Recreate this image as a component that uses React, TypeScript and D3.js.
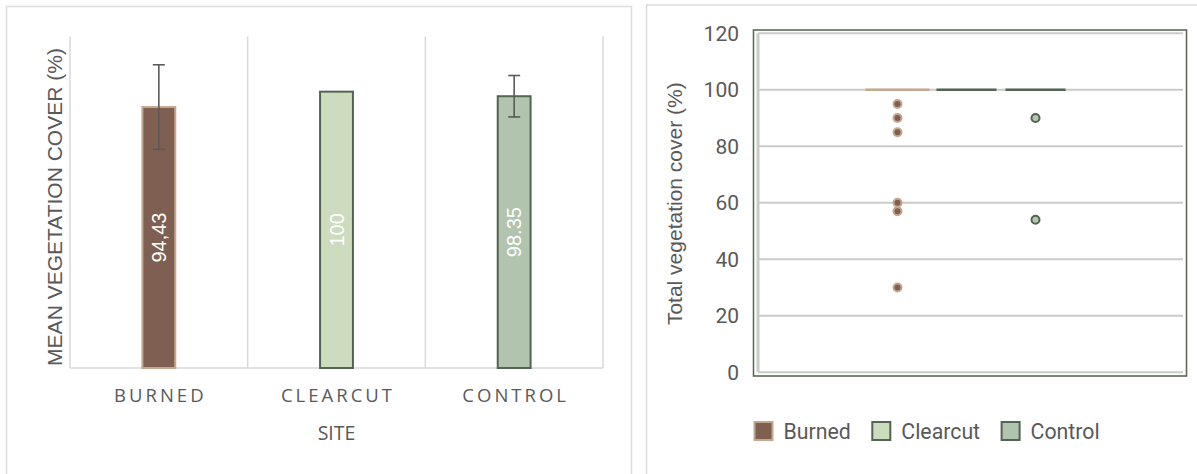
import React, { useEffect, useRef } from "react";
import * as d3 from "d3";

// ---------- data ----------
const sites = ["BURNED", "CLEARCUT", "CONTROL"];
const meanCover = [94.43, 100, 98.35];
const meanLabels = ["94,43", "100", "98.35"];
const errorHalf = [15.3, 0, 7.5];

const seriesNames = ["Burned", "Clearcut", "Control"];
const boxQ1 = [100, 100, 100];
const boxMedian = [100, 100, 100];
const boxQ3 = [100, 100, 100];
const burnedOutliers = [95, 90, 85, 60, 57, 30];
const clearcutOutliers: number[] = [];
const controlOutliers = [90, 54];
const yTicks = [0, 20, 40, 60, 80, 100, 120];

// ---------- styles ----------
const fills = ["#7f5f52", "#cddbbf", "#b1c4ae"];
const strokes = ["#c4a88d", "#526452", "#526452"];
const TEXT = "#595959";
const ARIAL = "'Liberation Sans', Arial, sans-serif";
const SEGOE = "'Open Sans', sans-serif";
const APTOS = "Roboto, sans-serif";

export default function App() {
  const ref = useRef<SVGSVGElement>(null);

  useEffect(() => {
    const svg = d3.select(ref.current);
    svg.selectAll("*").remove();

    // panel borders
    svg.append("rect").attr("x", 6.5).attr("y", 6.5).attr("width", 625).attr("height", 500)
      .attr("fill", "none").attr("stroke", "#dcdcdc").attr("stroke-width", 1.5);
    svg.append("rect").attr("x", 646.5).attr("y", 5).attr("width", 600).attr("height", 500)
      .attr("fill", "none").attr("stroke", "#dcdcdc").attr("stroke-width", 1.5);

    // ---------- LEFT CHART ----------
    const L = { x0: 70, x1: 603, y0: 368, y1: 36.4 };
    const xL = d3.scaleBand<string>().domain(sites).range([L.x0, L.x1]);
    const yL = d3.scaleLinear().domain([0, 120]).range([L.y0, L.y1]);
    const gL = svg.append("g");

    // category separators
    const seps = [L.x0, ...sites.map((s) => (xL(s) as number) + xL.bandwidth())];
    gL.selectAll("line.sep").data(seps).join("line")
      .attr("x1", (d) => d).attr("x2", (d) => d)
      .attr("y1", yL(120)).attr("y2", L.y0)
      .attr("stroke", "#d9d9d9").attr("stroke-width", 1.5);
    gL.append("line").attr("x1", L.x0).attr("x2", L.x1).attr("y1", L.y0).attr("y2", L.y0)
      .attr("stroke", "#d9d9d9").attr("stroke-width", 1.5);

    const bw = xL.bandwidth() * 0.185;
    sites.forEach((s, i) => {
      const cx = (xL(s) as number) + xL.bandwidth() / 2;
      gL.append("rect")
        .attr("x", cx - bw / 2).attr("y", yL(meanCover[i]))
        .attr("width", bw).attr("height", L.y0 - yL(meanCover[i]))
        .attr("fill", fills[i]).attr("stroke", strokes[i]).attr("stroke-width", 2);
      if (errorHalf[i] > 0) {
        const top = yL(meanCover[i] + errorHalf[i]);
        const bot = yL(meanCover[i] - errorHalf[i]);
        gL.append("line").attr("x1", cx).attr("x2", cx).attr("y1", top).attr("y2", bot)
          .attr("stroke", "#5a5a5a").attr("stroke-width", 1.6);
        [top, bot].forEach((y) =>
          gL.append("line").attr("x1", cx - 6).attr("x2", cx + 6).attr("y1", y).attr("y2", y)
            .attr("stroke", "#5a5a5a").attr("stroke-width", 1.6));
      }
      const my = (yL(meanCover[i]) + L.y0) / 2;
      gL.append("text").attr("transform", `translate(${cx},${my}) rotate(-90)`)
        .attr("text-anchor", "middle").attr("dominant-baseline", "central")
        .attr("font-family", ARIAL).attr("font-size", 20).attr("fill", "#ffffff")
        .text(meanLabels[i]);
      gL.append("text").attr("x", cx + 1.5).attr("y", 401.7)
        .attr("text-anchor", "middle").attr("font-family", SEGOE).attr("font-size", 18.5)
        .attr("letter-spacing", 3).attr("fill", TEXT).text(s);
    });
    gL.append("text").attr("x", (L.x0 + L.x1) / 2).attr("y", 440)
      .attr("text-anchor", "middle").attr("font-family", SEGOE).attr("font-size", 19.5)
      .attr("fill", TEXT).text("SITE");
    gL.append("text").attr("transform", `translate(61.5,207) rotate(-90)`)
      .attr("text-anchor", "middle").attr("font-family", ARIAL).attr("font-size", 21)
      .attr("fill", TEXT).text("MEAN VEGETATION COVER (%)");

    // ---------- RIGHT CHART ----------
    const R = { x0: 758, x1: 1183, y0: 372.3, y1: 33.3 };
    const yR = d3.scaleLinear().domain([0, 120]).range([R.y0, R.y1]);
    const gR = svg.append("g");
    gR.append("rect").attr("x", 753.5).attr("y", 30).attr("width", 433).attr("height", 346)
      .attr("fill", "none").attr("stroke", "#5b6b58").attr("stroke-width", 1.6);
    gR.selectAll("line.grid").data(yTicks).join("line")
      .attr("x1", R.x0).attr("x2", R.x1).attr("y1", (d) => yR(d)).attr("y2", (d) => yR(d))
      .attr("stroke", "#cacaca").attr("stroke-width", 2);
    gR.append("line").attr("x1", R.x0).attr("x2", R.x0).attr("y1", yR(120)).attr("y2", yR(0))
      .attr("stroke", "#cacaca").attr("stroke-width", 3);
    gR.selectAll("text.tick").data(yTicks).join("text")
      .attr("x", 739).attr("y", (d) => yR(d)).attr("dy", "0.36em")
      .attr("text-anchor", "end").attr("font-family", APTOS).attr("font-size", 21)
      .attr("fill", TEXT).text((d) => d);
    gR.append("text").attr("transform", `translate(681.5,203.7) rotate(-90)`)
      .attr("text-anchor", "middle").attr("font-family", ARIAL).attr("font-size", 21)
      .attr("fill", TEXT).text("Total vegetation cover (%)");

    const cc = (R.x0 + R.x1) / 2 - 4;
    const xS = d3.scaleBand<string>().domain(seriesNames).range([cc - 103.5, cc + 103.5]);
    const outliers = [burnedOutliers, clearcutOutliers, controlOutliers];
    seriesNames.forEach((s, i) => {
      const bx = (xS(s) as number) + xS.bandwidth() / 2;
      const w = xS.bandwidth() * 0.87 + (i === 0 ? 4 : 0);
      gR.append("rect").attr("x", bx - w / 2).attr("y", yR(boxQ3[i]))
        .attr("width", w).attr("height", yR(boxQ1[i]) - yR(boxQ3[i]))
        .attr("fill", fills[i]).attr("stroke", strokes[i]).attr("stroke-width", 2.6);
      gR.append("line").attr("x1", bx - w / 2).attr("x2", bx + w / 2)
        .attr("y1", yR(boxMedian[i])).attr("y2", yR(boxMedian[i]))
        .attr("stroke", strokes[i]).attr("stroke-width", 2.6);
      gR.selectAll(`circle.o${i}`).data(outliers[i]).join("circle")
        .attr("cx", bx).attr("cy", (d) => yR(d)).attr("r", 4)
        .attr("fill", i === 0 ? fills[0] : "#b4c8b0").attr("stroke", strokes[i])
        .attr("stroke-width", 2);
    });

    // legend
    let lx = 753.5;
    seriesNames.forEach((s, i) => {
      gR.append("rect").attr("x", lx + 1).attr("y", 422).attr("width", 18).attr("height", 18)
        .attr("fill", fills[i]).attr("stroke", strokes[i]).attr("stroke-width", 2);
      const t = gR.append("text").attr("x", lx + 30).attr("y", 431.7).attr("dy", "0.36em")
        .attr("font-family", APTOS).attr("font-size", 21.3).attr("fill", TEXT).text(s);
      const tw = (t.node() as SVGTextElement).getComputedTextLength();
      lx += 30 + tw + 20.5;
    });
  }, []);

  return (
    <svg ref={ref} width={1197} height={474}
      style={{ position: "absolute", left: 0, top: 0, background: "#ffffff" }} />
  );
}
